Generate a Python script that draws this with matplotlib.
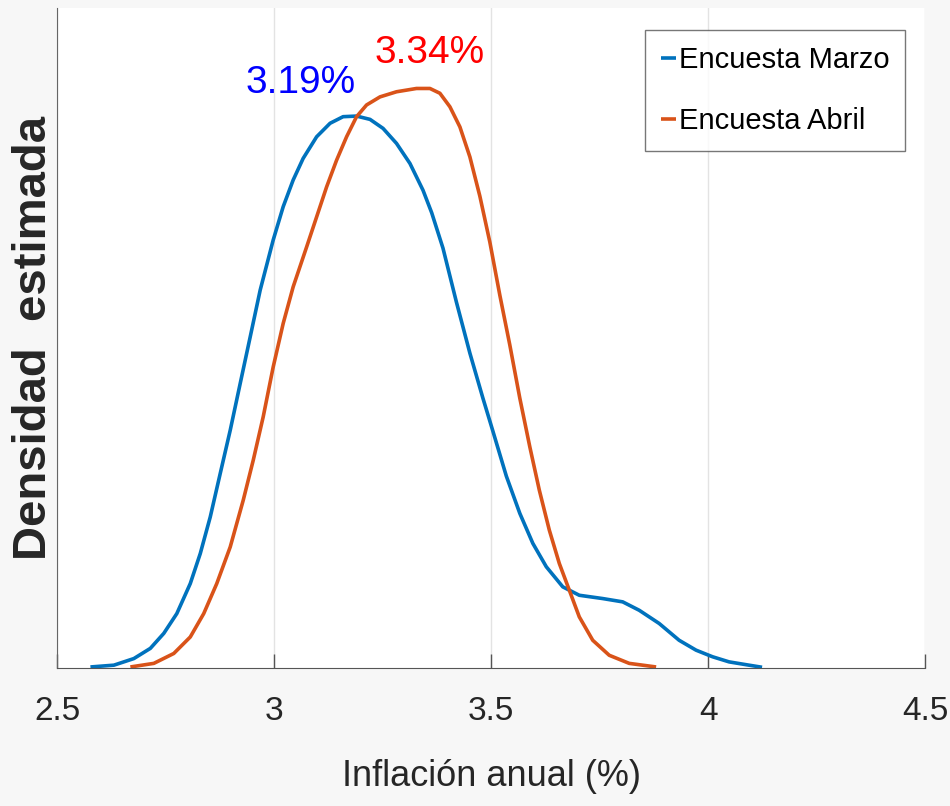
import numpy as np
import matplotlib
matplotlib.use('Agg')
import matplotlib.pyplot as plt

# Density curves (x = inflation %, y = estimated density)
marzo_x = [2.577, 2.631, 2.677, 2.715, 2.746, 2.776, 2.807, 2.830, 2.853, 2.876,
           2.899, 2.922, 2.945, 2.968, 2.998, 3.021, 3.044, 3.067, 3.098, 3.129,
           3.159, 3.190, 3.221, 3.251, 3.282, 3.313, 3.343, 3.363, 3.389, 3.420,
           3.451, 3.481, 3.504, 3.535, 3.566, 3.596, 3.627, 3.665, 3.703, 3.757,
           3.803, 3.841, 3.887, 3.933, 3.972, 4.010, 4.048, 4.094, 4.124]
marzo_y = [0.004, 0.010, 0.032, 0.066, 0.116, 0.182, 0.282, 0.382, 0.504, 0.649,
           0.793, 0.949, 1.104, 1.260, 1.427, 1.538, 1.627, 1.699, 1.771, 1.816,
           1.838, 1.840, 1.829, 1.799, 1.749, 1.682, 1.593, 1.518, 1.400, 1.220,
           1.050, 0.900, 0.790, 0.640, 0.516, 0.416, 0.338, 0.271, 0.243, 0.232,
           0.221, 0.193, 0.149, 0.093, 0.060, 0.038, 0.021, 0.010, 0.003]

abril_x = [2.669, 2.723, 2.769, 2.807, 2.838, 2.868, 2.899, 2.929, 2.952, 2.975,
           2.998, 3.021, 3.044, 3.075, 3.098, 3.121, 3.144, 3.167, 3.190, 3.213,
           3.244, 3.282, 3.328, 3.359, 3.382, 3.405, 3.428, 3.451, 3.474, 3.497,
           3.520, 3.543, 3.566, 3.589, 3.611, 3.634, 3.657, 3.680, 3.703, 3.734,
           3.772, 3.818, 3.880]
abril_y = [0.004, 0.016, 0.049, 0.104, 0.182, 0.282, 0.404, 0.560, 0.693, 0.838,
           1.004, 1.149, 1.271, 1.404, 1.504, 1.604, 1.693, 1.771, 1.838, 1.877,
           1.904, 1.921, 1.932, 1.932, 1.916, 1.871, 1.804, 1.704, 1.573, 1.420,
           1.243, 1.077, 0.900, 0.738, 0.593, 0.460, 0.349, 0.260, 0.171, 0.093,
           0.043, 0.016, 0.004]

labels = ['Encuesta Marzo', 'Encuesta Abril']
modes = ['3.19%', '3.34%']
x_ticks = [2.5, 3, 3.5, 4, 4.5]
x_tick_labels = ['2.5', '3', '3.5', '4', '4.5']

font = 'Liberation Sans'

fig = plt.figure(figsize=(9.5, 8.06), dpi=100, facecolor='#f7f7f7')
ax = fig.add_axes([0.060, 0.171, 0.914, 0.819])
ax.set_facecolor('white')

ax.plot(marzo_x, marzo_y, color='#0072BD', linewidth=2.6, label=labels[0],
        solid_joinstyle='round', solid_capstyle='butt')
ax.plot(abril_x, abril_y, color='#D95319', linewidth=2.6, label=labels[1],
        solid_joinstyle='round', solid_capstyle='butt')

ax.text(3.06, 1.95, modes[0], color='#0000FF', fontsize=28, family=font,
        ha='center', va='center')
ax.text(3.359, 2.05, modes[1], color='#FF0000', fontsize=28, family=font,
        ha='center', va='center')

ax.set_xlim(2.5, 4.5)
ax.set_ylim(0, 2.2)
ax.set_xticks(x_ticks)
ax.set_xticklabels(x_tick_labels, family=font, fontsize=24, color='#262626')
ax.set_yticks([])
ax.tick_params(axis='x', direction='in', length=10, width=1, color='#555555', pad=20)
ax.grid(True, axis='x', color='#e3e3e3', linewidth=1)

for side in ['top', 'right']:
    ax.spines[side].set_visible(False)
ax.spines['left'].set_color('#666666')
ax.spines['bottom'].set_color('#555555')

ax.set_xlabel('Inflación anual (%)', family=font, fontsize=26, color='#262626')
ax.xaxis.set_label_coords(0.5, -0.164)
ax.xaxis.label.set_va('center')
ax.set_ylabel('Densidad  estimada', family=font, fontweight='bold',
              fontsize=34, color='#262626')
ax.yaxis.set_label_coords(-0.027, 0.5)
ax.yaxis.label.set_va('center')

leg = ax.legend(loc='upper right', bbox_to_anchor=(0.977, 0.967), borderaxespad=0,
                prop={'family': font, 'size': 21}, fancybox=False, frameon=True,
                handlelength=0.5, handletextpad=0.1,
                borderpad=0.55, labelspacing=1.15)
leg.get_frame().set_edgecolor('#555555')
leg.get_frame().set_linewidth(1)

plt.savefig('out.png', dpi=100, facecolor=fig.get_facecolor())
